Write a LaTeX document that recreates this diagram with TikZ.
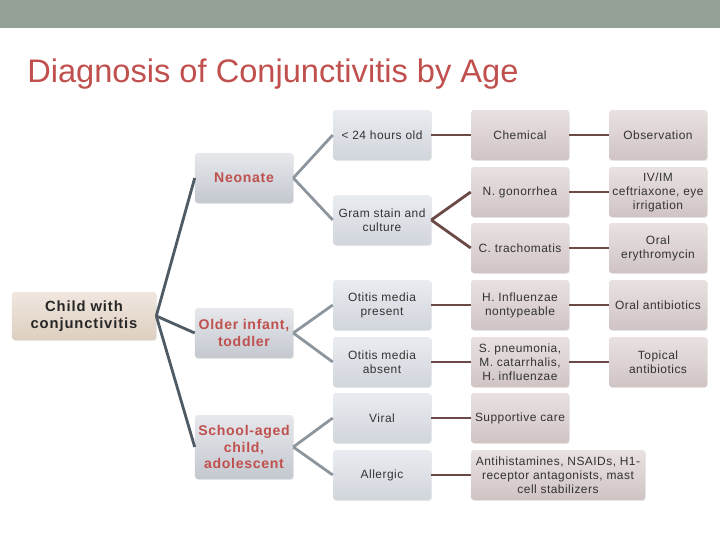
\documentclass[tikz,border=0pt]{standalone}
\usepackage{fontspec}
\setmainfont{Liberation Sans}
\usepackage{tikz}
\usetikzlibrary{shadows}

\definecolor{bandgrey}{HTML}{93A197}
\definecolor{titlered}{HTML}{C0504D}
\definecolor{textgrey}{HTML}{333333}
\definecolor{rootline}{HTML}{4E5A64}
\definecolor{ageline}{HTML}{8D959D}
\definecolor{causeline}{HTML}{6B4A45}
\definecolor{rootlight}{HTML}{F0E7DF}
\definecolor{rootdark}{HTML}{DDCEBF}
\definecolor{agelight}{HTML}{E6E8EC}
\definecolor{agedark}{HTML}{C4C8CF}
\definecolor{testlight}{HTML}{E9ECF0}
\definecolor{testdark}{HTML}{D1D5DC}
\definecolor{causelight}{HTML}{E9E2E1}
\definecolor{causedark}{HTML}{CFC4C3}

\begin{document}
\begin{tikzpicture}[x=0.25mm,y=-0.25mm,
    box/.style={rounded corners=2pt,align=center,inner sep=1pt,shading angle=45,
                drop shadow={shadow xshift=0.6pt,shadow yshift=-0.6pt,opacity=0.18},
                font=\fontsize{8.5}{10}\selectfont\addfontfeatures{LetterSpace=4},text=textgrey,
                minimum width=24.5mm,minimum height=12.5mm},
    rootbox/.style={box,top color=rootlight,bottom color=rootdark,
                minimum width=36mm,minimum height=12mm,
                font=\fontsize{10.5}{12.5}\selectfont\bfseries\addfontfeatures{LetterSpace=6},text=black!85},
    agebox/.style={box,top color=agelight,bottom color=agedark,
                font=\fontsize{10}{12}\selectfont\bfseries\addfontfeatures{LetterSpace=5},text=titlered},
    testbox/.style={box,top color=testlight,bottom color=testdark},
    causebox/.style={box,top color=causelight,bottom color=causedark}]

%page size and the grey band on top
\useasboundingbox (0,0) rectangle (720,540);
\fill[bandgrey] (0,0) rectangle (720,28);
\node[anchor=base west,inner sep=0pt,text=titlered,font=\fontsize{23.2}{26}\selectfont]
    (title) at (27,82) {Diagnosis of Conjunctivitis by Age};

%root and the three age groups
\node[rootbox] (child) at (84,316) {Child with\\conjunctivitis};
\begin{scope}[every node/.style={agebox}]
    \node (neo) at (244,178) {Neonate};
    \node (older) at (244,333) {Older infant,\\toddler};
    \node[minimum height=16mm] (school) at (244,447) {School-aged\\child,\\adolescent};
\end{scope}

%second column: findings
\begin{scope}[every node/.style={testbox}]
    \node (hrs) at (382,135) {< 24 hours old};
    \node (gram) at (382,220) {Gram stain and\\culture};
    \node (otp) at (382,305) {Otitis media\\present};
    \node (ota) at (382,362) {Otitis media\\absent};
    \node (viral) at (382,418) {Viral};
    \node (allergic) at (382,475) {Allergic};
\end{scope}

%third column: causes
\begin{scope}[every node/.style={causebox}]
    \node (chem) at (520,135) {Chemical};
    \node (gon) at (520,192) {N. gonorrhea};
    \node (trach) at (520,248) {C. trachomatis};
    \node (hinf) at (520,305) {H. Influenzae\\nontypeable};
    \node (spn) at (520,362) {S. pneumonia,\\M. catarrhalis,\\H. influenzae};
    \node (supp) at (520,418) {Supportive care};
    \node[minimum width=43.5mm] (anti) at (558,475) {Antihistamines, NSAIDs, H1-\\receptor antagonists, mast\\cell stabilizers};
\end{scope}

%fourth column: treatment
\begin{scope}[every node/.style={causebox}]
    \node (obs) at (658,135) {Observation};
    \node (iv) at (658,192) {IV/IM\\ceftriaxone, eye\\irrigation};
    \node (oral) at (658,248) {Oral\\erythromycin};
    \node (oralab) at (658,305) {Oral antibiotics};
    \node (topical) at (658,362) {Topical\\antibiotics};
\end{scope}

%dark lines from the root
\begin{scope}[every edge/.style={draw=rootline,line width=2pt}]
    \path (child.east) edge (neo.west);
    \path (child.east) edge (older.west);
    \path (child.east) edge (school.west);
\end{scope}

%grey lines from the age groups
\begin{scope}[every edge/.style={draw=ageline,line width=2pt}]
    \path (neo.east) edge (hrs.west);
    \path (neo.east) edge (gram.west);
    \path (older.east) edge (otp.west);
    \path (older.east) edge (ota.west);
    \path (school.east) edge (viral.west);
    \path (school.east) edge (allergic.west);
\end{scope}

%brown lines to causes and treatments
\begin{scope}[every edge/.style={draw=causeline,line width=2pt}]
    \path (hrs) edge (chem);
    \path (gram.east) edge (gon.west);
    \path (gram.east) edge (trach.west);
    \path (otp) edge (hinf);
    \path (ota) edge (spn);
    \path (viral) edge (supp);
    \path (allergic) edge (anti);
    \path (chem) edge (obs);
    \path (gon) edge (iv);
    \path (trach) edge (oral);
    \path (hinf) edge (oralab);
    \path (spn) edge (topical);
\end{scope}
\end{tikzpicture}
\end{document}
